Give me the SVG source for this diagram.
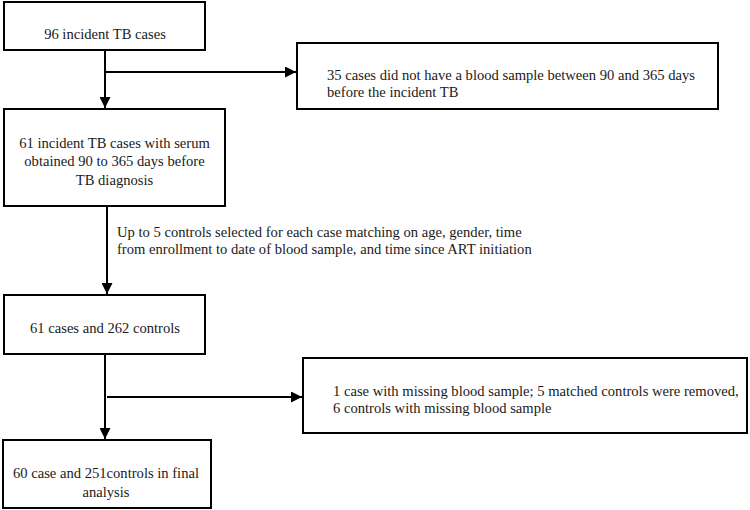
<svg xmlns="http://www.w3.org/2000/svg" width="750" height="510" viewBox="0 0 750 510">
<style>
.box{fill:#fff;stroke:#000;stroke-width:2}
.t{font-family:"Liberation Serif","Times New Roman",serif;font-size:14.6px;fill:#1a1a1a}
.m{text-anchor:middle}
.c{fill:none;stroke:#000;stroke-width:2}
</style>
<defs>
<marker id="ah" markerUnits="userSpaceOnUse" markerWidth="11" markerHeight="11" refX="10" refY="5" orient="auto" viewBox="0 0 10 10">
<path d="M0,0 L10,5 L0,10 z" fill="#000"/>
</marker>
</defs>
<rect width="750" height="510" fill="#fff"/>
<g id="connectors">
<line class="c" x1="105" y1="50" x2="105" y2="108" marker-end="url(#ah)"/>
<line class="c" x1="105" y1="72" x2="296" y2="72" marker-end="url(#ah)"/>
<line class="c" x1="107" y1="206" x2="107" y2="294" marker-end="url(#ah)"/>
<line class="c" x1="105" y1="354" x2="105" y2="439" marker-end="url(#ah)"/>
<line class="c" x1="107" y1="397" x2="302" y2="397" marker-end="url(#ah)"/>
<text class="t" x="117" y="237">Up to 5 controls selected for each case matching on age, gender, time</text>
<text class="t" x="117" y="254">from enrollment to date of blood sample, and time since ART initiation</text>
</g>
<g id="n1">
<rect class="box" x="4" y="2" width="201" height="48"/>
<text class="t m" x="105" y="39">96 incident TB cases</text>
</g>
<g id="n2">
<rect class="box" x="297" y="43" width="421" height="66"/>
<text class="t" x="327" y="80">35 cases did not have a blood sample between 90 and 365 days</text>
<text class="t" x="327" y="97">before the incident TB</text>
</g>
<g id="n3">
<rect class="box" x="4" y="109" width="221" height="97"/>
<text class="t m" x="114.5" y="148">61 incident TB cases with serum</text>
<text class="t m" x="114.5" y="166">obtained 90 to 365 days before</text>
<text class="t m" x="114.5" y="185">TB diagnosis</text>
</g>
<g id="n4">
<rect class="box" x="4" y="295" width="201" height="59"/>
<text class="t m" x="105" y="333">61 cases and 262 controls</text>
</g>
<g id="n5">
<rect class="box" x="303" y="358" width="444" height="75"/>
<text class="t" x="333" y="396">1 case with missing blood sample; 5 matched controls were removed,</text>
<text class="t" x="333" y="413">6 controls with missing blood sample</text>
</g>
<g id="n6">
<rect class="box" x="3" y="440" width="208" height="68"/>
<text class="t m" x="106" y="478">60 case and 251controls in final</text>
<text class="t m" x="106" y="497">analysis</text>
</g>
</svg>
